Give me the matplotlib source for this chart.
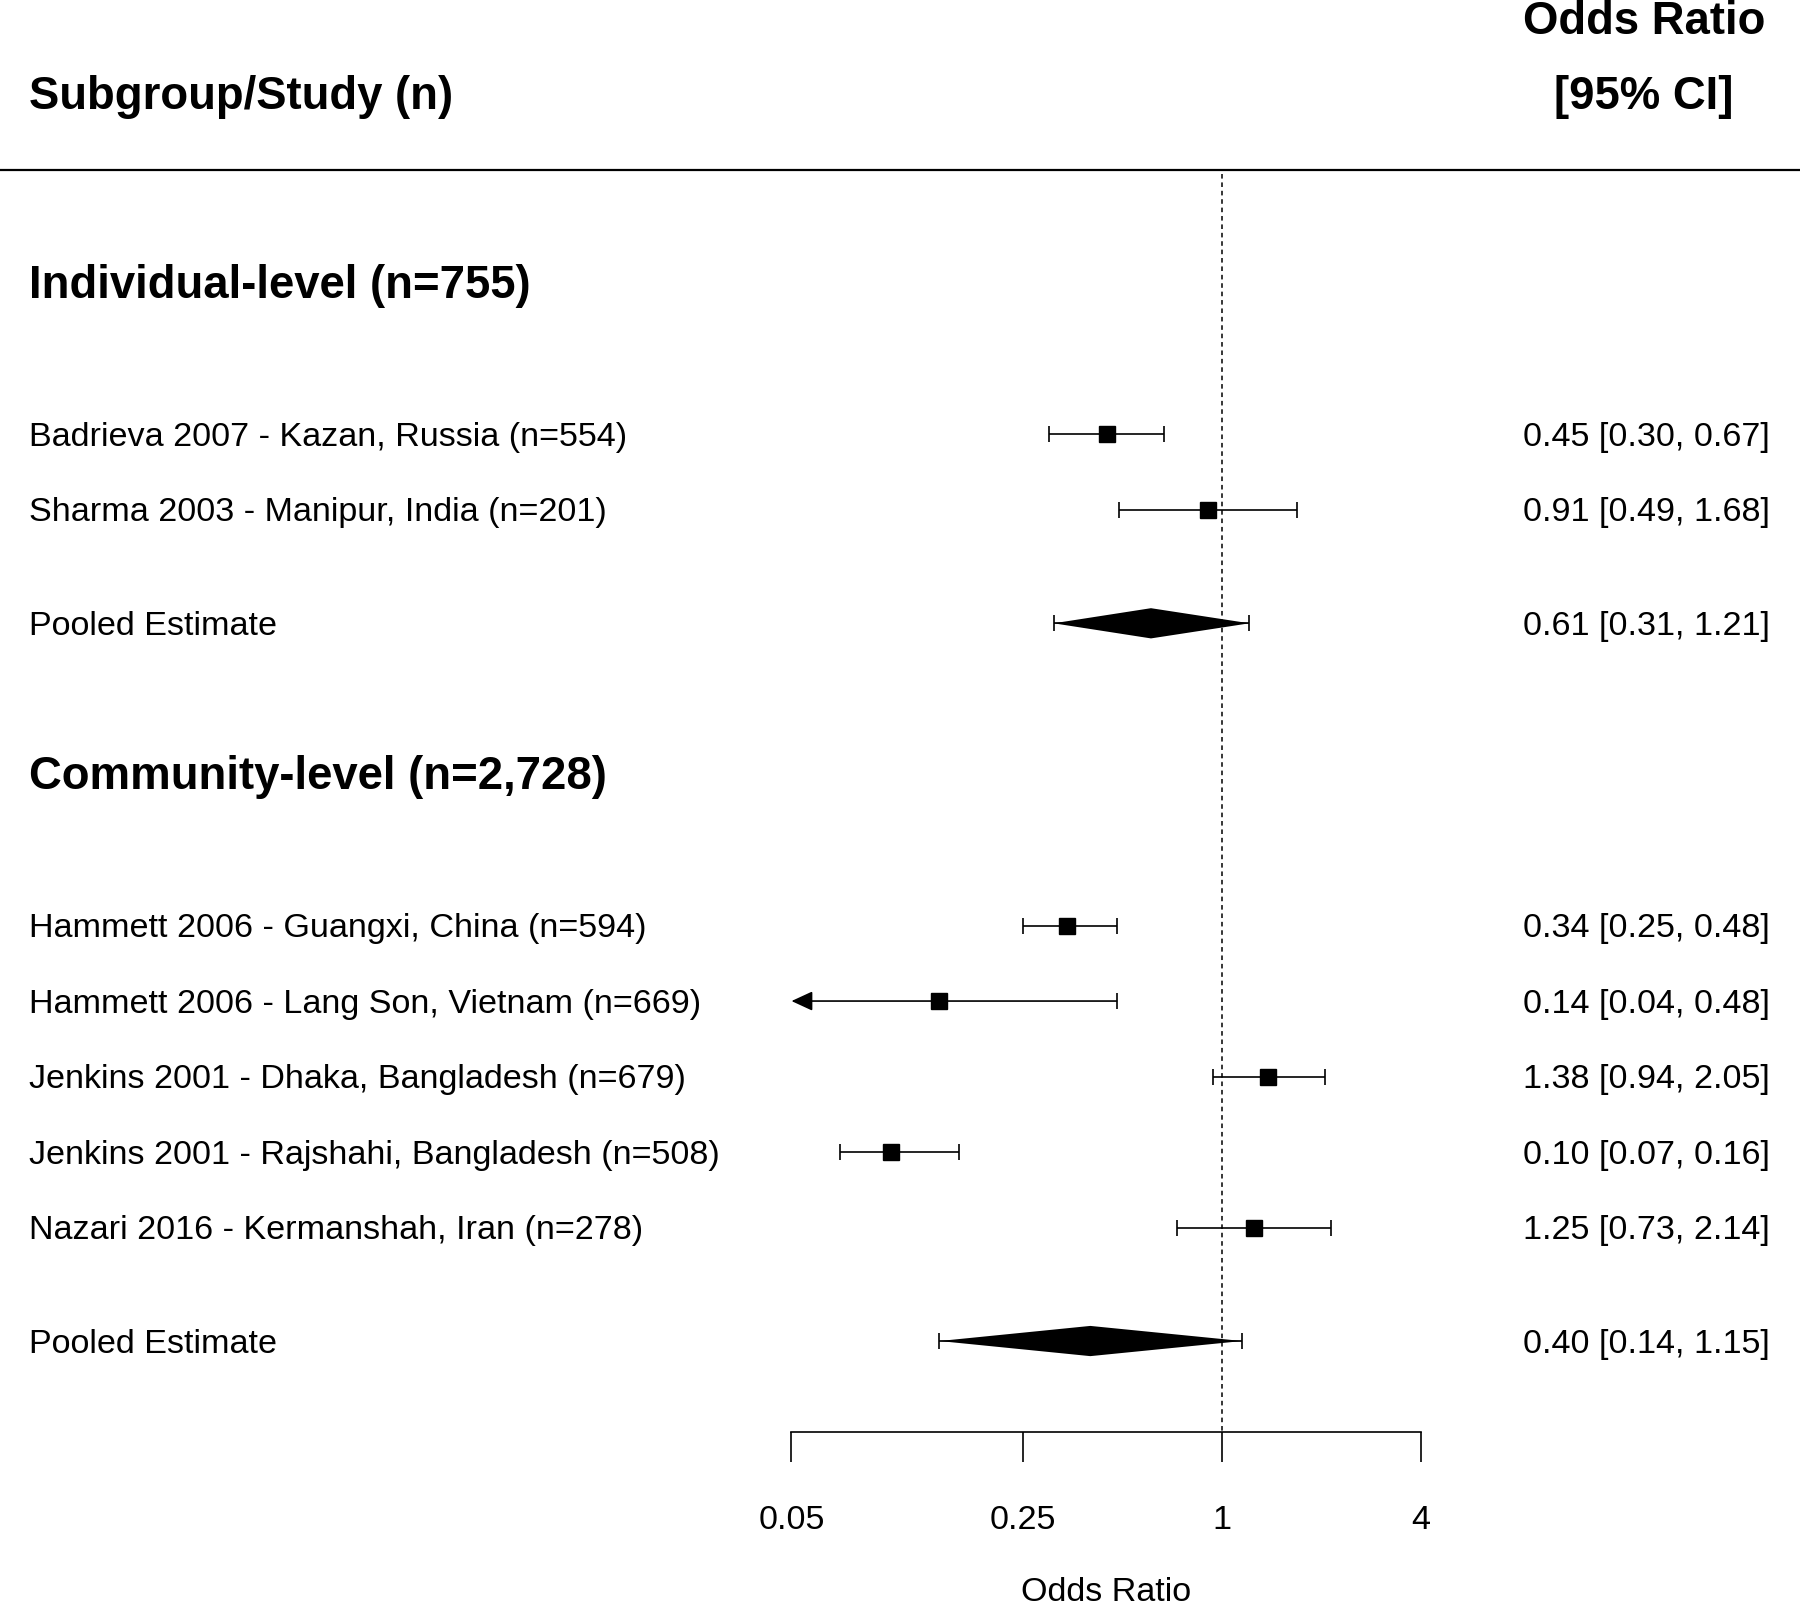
import numpy as np
import matplotlib
matplotlib.use('Agg')
import matplotlib.pyplot as plt
from matplotlib.ticker import NullLocator
from matplotlib.transforms import blended_transform_factory

plt.rcParams['font.family'] = ['Liberation Sans', 'DejaVu Sans']

# individual-level studies
ind_labels = ['Badrieva 2007 - Kazan, Russia (n=554)',
              'Sharma 2003 - Manipur, India (n=201)']
ind_or = [0.45, 0.91]
ind_lo = [0.30, 0.49]
ind_hi = [0.67, 1.68]
ind_pool = [0.61, 0.31, 1.21]

# community-level studies
com_labels = ['Hammett 2006 - Guangxi, China (n=594)',
              'Hammett 2006 - Lang Son, Vietnam (n=669)',
              'Jenkins 2001 - Dhaka, Bangladesh (n=679)',
              'Jenkins 2001 - Rajshahi, Bangladesh (n=508)',
              'Nazari 2016 - Kermanshah, Iran (n=278)']
com_or = [0.34, 0.14, 1.38, 0.10, 1.25]
com_lo = [0.25, 0.04, 0.94, 0.07, 0.73]
com_hi = [0.48, 0.48, 2.05, 0.16, 2.14]
com_pool = [0.40, 0.14, 1.15]

groups = ['Individual-level (n=755)', 'Community-level (n=2,728)']
ticks = [0.05, 0.25, 1, 4]
tick_labels = ['0.05', '0.25', '1', '4']

# layout in "rows", counted downwards from the header rule
px_row = 75.55
fig = plt.figure(figsize=(18, 16.12), dpi=100)
ax = fig.add_axes([0, 0, 1, 1])
ax.set_xscale('log')
ax.set_xlim(10 ** (-1222 / 330.9), 10 ** ((1800 - 1222) / 330.9))
ax.set_ylim(1612 / px_row - 170 / px_row, -170 / px_row)
for s in ['top', 'left', 'right']:
    ax.spines[s].set_visible(False)
ax.set_yticks([])

xmin = ticks[0]
axis_row = 16.7
lw = 1.2
fs = 24.6
fs_b = 32.8
dy = 0.04  # nudge text down a bit to sit on the marker centres
tr = blended_transform_factory(ax.transAxes, ax.transData)
left_x = 29 / 1800
right_x = 1770 / 1800

ax.axhline(0, color='black', lw=1.6)
ax.vlines(1, 0.05, axis_row, colors='black', lw=1.1, linestyles=(0, (3, 2.5)))

ax.text(left_x, -1 + dy, 'Subgroup/Study (n)', transform=tr, fontsize=fs_b,
        fontweight='bold', va='center', ha='left')
ax.text(1644 / 1800, -2 + dy, 'Odds Ratio', transform=tr, fontsize=fs_b,
        fontweight='bold', va='center', ha='center')
ax.text(1644 / 1800, -1 + dy, '[95% CI]', transform=tr, fontsize=fs_b,
        fontweight='bold', va='center', ha='center')


def study(row, label, est, lo, hi):
    ax.text(left_x, row + dy, label, transform=tr, fontsize=fs, va='center', ha='left')
    ax.text(right_x, row + dy, '%.2f [%.2f, %.2f]' % (est, lo, hi), transform=tr,
            fontsize=fs, va='center', ha='right')
    if lo < xmin:
        # CI runs off the axis: arrow to the axis minimum
        ax.annotate('', xy=(xmin, row), xytext=(hi, row),
                    arrowprops=dict(arrowstyle='-|>,head_length=13,head_width=6',
                                    mutation_scale=1, color='black', lw=lw,
                                    shrinkA=0, shrinkB=0))
        ax.plot([hi], [row], marker='|', ms=11.5, mew=lw, color='black')
    else:
        ax.errorbar([est], [row], xerr=[[est - lo], [hi - est]], fmt='none',
                    ecolor='black', elinewidth=lw, capsize=5.7, capthick=lw)
    ax.plot([est], [row], marker='s', ms=11.5, color='black', mec='black')


def pooled(row, est, lo, hi):
    ax.text(left_x, row + dy, 'Pooled Estimate', transform=tr, fontsize=fs,
            va='center', ha='left')
    ax.text(right_x, row + dy, '%.2f [%.2f, %.2f]' % (est, lo, hi), transform=tr,
            fontsize=fs, va='center', ha='right')
    h = 0.2
    ax.fill([lo, est, hi, est], [row, row - h, row, row + h], color='black', lw=0)
    ax.errorbar([est], [row], xerr=[[est - lo], [hi - est]], fmt='none',
                ecolor='black', elinewidth=lw, capsize=5.7, capthick=lw)


ax.text(left_x, 1.5 + dy, groups[0], transform=tr, fontsize=fs_b, fontweight='bold',
        va='center', ha='left')
for i in range(len(ind_labels)):
    study(3.5 + i, ind_labels[i], ind_or[i], ind_lo[i], ind_hi[i])
pooled(6, *ind_pool)

ax.text(left_x, 8 + dy, groups[1], transform=tr, fontsize=fs_b, fontweight='bold',
        va='center', ha='left')
for i in range(len(com_labels)):
    study(10 + i, com_labels[i], com_or[i], com_lo[i], com_hi[i])
pooled(15.5, *com_pool)

# R style axis
ax.spines['bottom'].set_position(('data', axis_row))
ax.spines['bottom'].set_bounds(ticks[0], ticks[-1])
ax.spines['bottom'].set_linewidth(lw)
ax.set_xticks(ticks, labels=tick_labels)
ax.xaxis.set_minor_locator(NullLocator())
ax.tick_params(axis='x', direction='out', length=21.5, width=lw,
               labelsize=fs, pad=31)
ax.text(np.sqrt(ticks[0] * ticks[-1]), (1592 - 170) / px_row, 'Odds Ratio',
        fontsize=fs, ha='center', va='center')

fig.savefig('out.png', dpi=100)
